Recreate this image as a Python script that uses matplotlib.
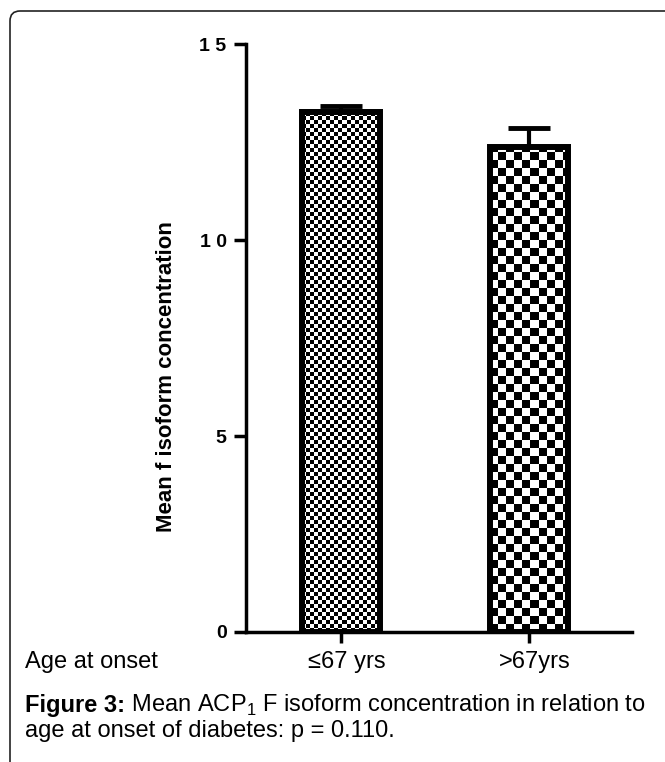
import numpy as np
import matplotlib.pyplot as plt
from matplotlib.path import Path
from matplotlib.patches import PathPatch

plt.rcParams['font.family'] = ['Liberation Sans', 'DejaVu Sans']
plt.rcParams['mathtext.fontset'] = 'custom'
plt.rcParams['mathtext.rm'] = 'Liberation Sans'
plt.rcParams['mathtext.bf'] = 'Liberation Sans:bold'

# data
groups = ['\u226467 yrs', '>67yrs']
means = [13.27, 12.37]
errs = [0.16, 0.49]
yticks = [0, 5, 10, 15]
ytick_labels = ['0', '5', '1 0', '1 5']
cell_px = [4, 8]        # checker square size for each bar

W, H = 665, 762
fig = plt.figure(figsize=(W/100, H/100), dpi=100)

# frame + free text in pixel coords
bg = fig.add_axes([0, 0, 1, 1], zorder=0)
bg.set_xlim(0, W); bg.set_ylim(H, 0); bg.axis('off')
r = 10
verts = [(W+5, 11), (10+r, 11), (10, 11), (10, 11+r), (10, H+5)]
codes = [Path.MOVETO, Path.LINETO, Path.CURVE3, Path.CURVE3, Path.LINETO]
bg.add_patch(PathPatch(Path(verts, codes), fill=False, lw=1.2, ec='#222222'))

x0, x1, y0, y15 = 246, 632, 632, 44
ax = fig.add_axes([x0/W, 1-y0/H, (x1-x0)/W, (y0-y15)/H], zorder=1)
ax.patch.set_alpha(0)
xpos = np.arange(len(groups))
bw = 0.415
xl = (-0.505, (x1-341)/188)
ax.set_xlim(*xl)
ax.set_ylim(0, 15)

bars = ax.bar(xpos, means, width=bw, color='white', edgecolor='none', zorder=2)
ax.errorbar(xpos, means, yerr=[np.zeros(len(errs)), errs], fmt='none', ecolor='black',
            elinewidth=3, capsize=15, capthick=3.5, zorder=1.5)

# checkerboard fill, clipped to each bar
fig.canvas.draw()
for b, c in zip(bars, cell_px):
    bx, by = b.get_x(), b.get_y()
    bwid, bht = b.get_width(), b.get_height()
    p0 = ax.transData.transform((bx, by))
    p1 = ax.transData.transform((bx + bwid, by + bht))
    nx = max(1, int(round((p1[0]-p0[0]) / c)))
    ny = max(1, int(round((p1[1]-p0[1]) / c)))
    grid = (np.add.outer(np.arange(ny), np.arange(nx)) % 2).astype(float)
    ex_w = nx * c / (p1[0]-p0[0]) * bwid
    ex_h = ny * c / (p1[1]-p0[1]) * bht
    im = ax.imshow(grid, cmap='gray', extent=[bx, bx+ex_w, by, by+ex_h], origin='lower',
                   interpolation='nearest', aspect='auto', zorder=2.5)
    im.set_clip_path(b)
ax.bar(xpos, means, width=bw, fill=False, edgecolor='black', lw=4.3, zorder=4)
ax.set_xlim(*xl)
ax.set_ylim(0, 15)

for s in ['top', 'right']:
    ax.spines[s].set_visible(False)
for s in ['left', 'bottom']:
    ax.spines[s].set_linewidth(2.5)
ax.set_yticks(yticks)
ax.set_yticklabels(ytick_labels, fontweight='bold', fontsize=14)
ax.set_xticks(xpos)
ax.set_xticklabels([])
ax.tick_params(axis='y', length=9, width=2.5, pad=5)
ax.tick_params(axis='x', length=8, width=2.5)
ax.set_ylabel('Mean f isoform concentration', fontweight='bold', fontsize=16)
ax.yaxis.set_label_coords(-0.178, 0.435)

fs = 17
bg.text(25, 662, 'Age at onset', fontsize=fs, va='center', ha='left')
for i, g in enumerate(groups):
    bg.text(347 + 188*i, 662, g, fontsize=fs, va='center', ha='center')
t1 = bg.text(25, 712, 'Figure 3:', fontsize=fs, fontweight='bold', va='baseline', ha='left')
fig.canvas.draw()
bb = t1.get_window_extent()
bg.text(25 + bb.width, 712, ' Mean ACP$_1$ F isoform concentration in relation to',
        fontsize=fs, va='baseline', ha='left')
bg.text(25, 737, 'age at onset of diabetes: p = 0.110.', fontsize=fs, va='baseline', ha='left')

fig.savefig('out.png', dpi=100)
